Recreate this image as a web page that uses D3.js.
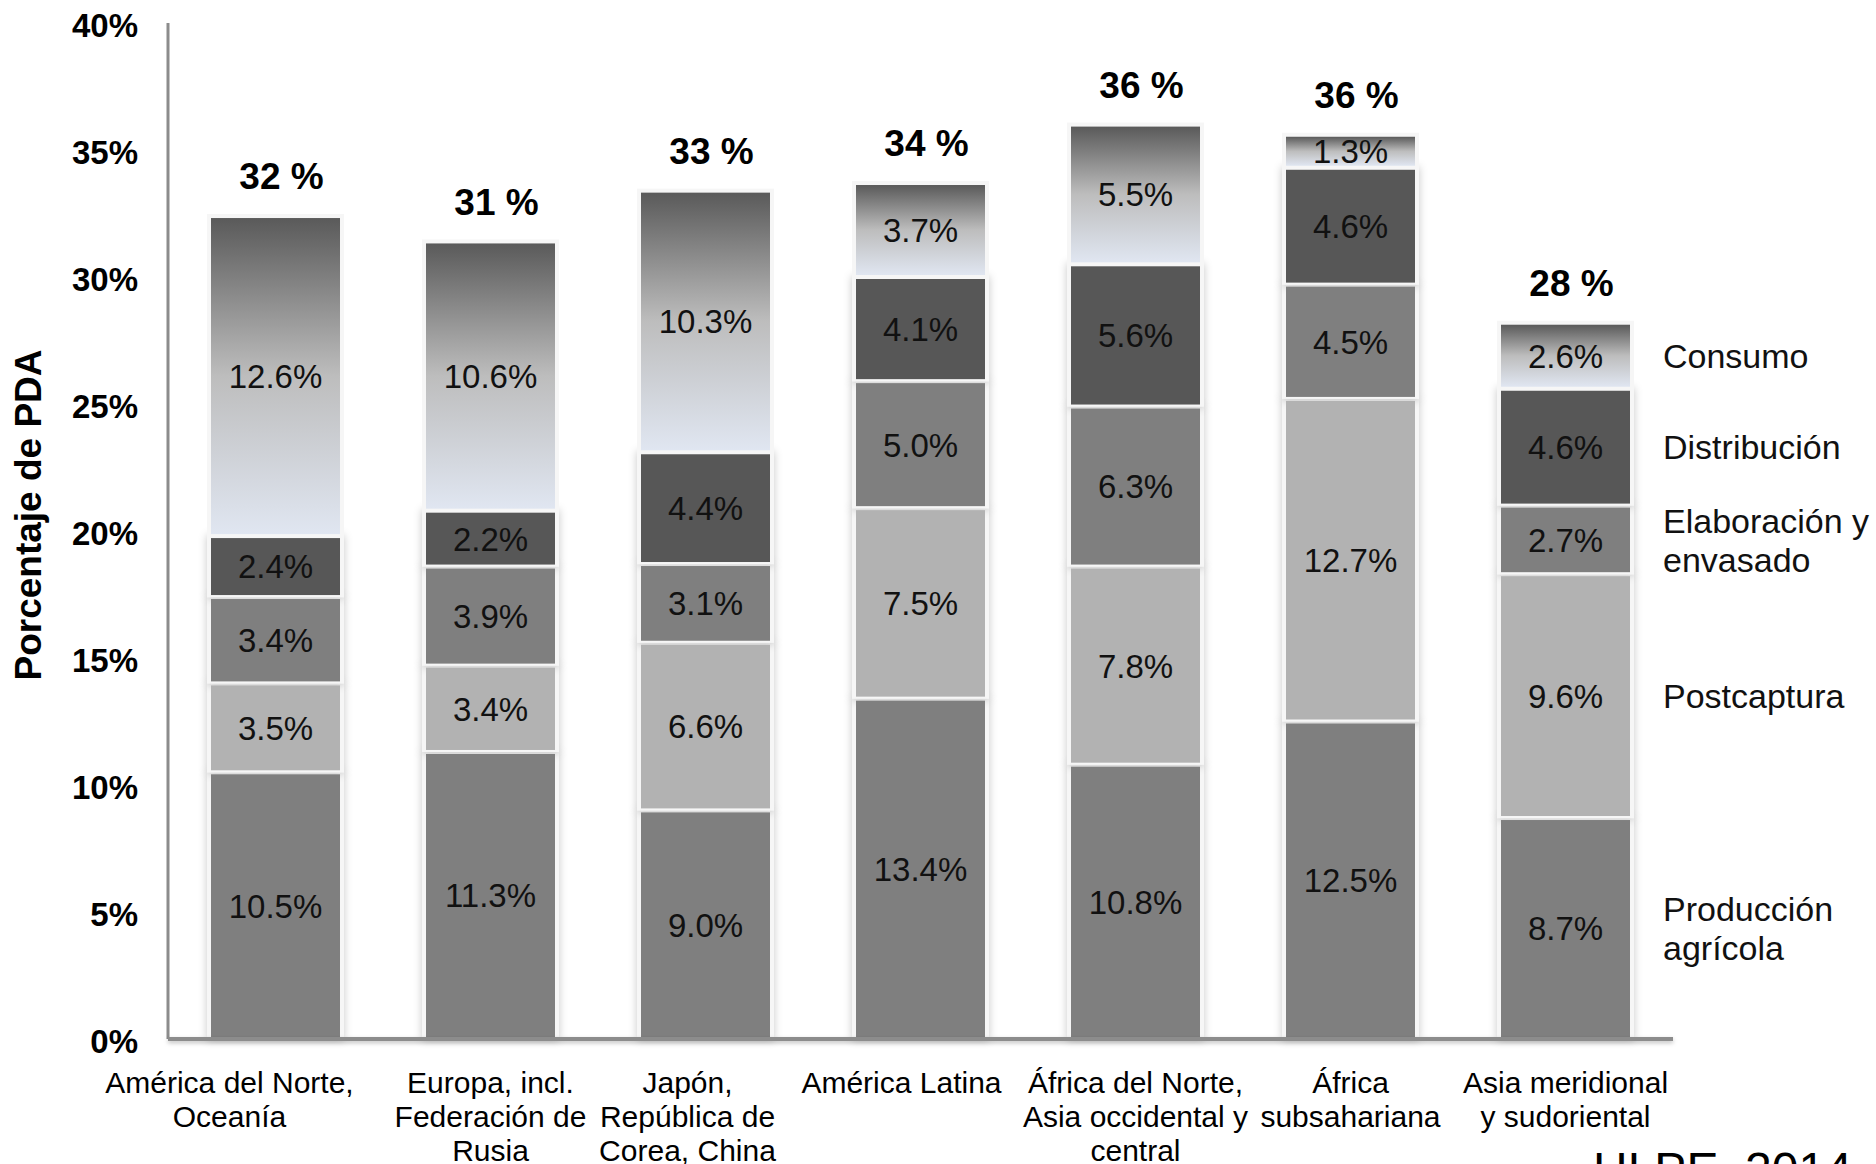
<!DOCTYPE html>
<html><head><meta charset="utf-8">
<script src="https://cdn.jsdelivr.net/npm/d3@7"></script>
<style>
html,body{margin:0;padding:0;background:#fff;}
svg{display:block;font-family:"Liberation Sans",Arial,sans-serif;}
</style></head>
<body>
<svg id="chart" width="1876" height="1164"></svg>
<script>
// ---- data ----
const categories = [
  ["América del Norte,", "Oceanía"],
  ["Europa, incl.", "Federación de", "Rusia"],
  ["Japón,", "República de", "Corea, China"],
  ["América Latina"],
  ["África del Norte,", "Asia occidental y", "central"],
  ["África", "subsahariana"],
  ["Asia meridional", "y sudoriental"]
];
const seriesNames = ["Producción agrícola", "Postcaptura", "Elaboración y envasado", "Distribución", "Consumo"];
const legendLines = [["Producción", "agrícola"], ["Postcaptura"], ["Elaboración y", "envasado"], ["Distribución"], ["Consumo"]];
const produccion   = [10.5, 11.3, 9.0, 13.4, 10.8, 12.5, 8.7];
const postcaptura  = [3.5, 3.4, 6.6, 7.5, 7.8, 12.7, 9.6];
const elaboracion  = [3.4, 3.9, 3.1, 5.0, 6.3, 4.5, 2.7];
const distribucion = [2.4, 2.2, 4.4, 4.1, 5.6, 4.6, 4.6];
const consumo      = [12.6, 10.6, 10.3, 3.7, 5.5, 1.3, 2.6];
const totalLabels  = ["32 %", "31 %", "33 %", "34 %", "36 %", "36 %", "28 %"];
const yTicks = [0, 5, 10, 15, 20, 25, 30, 35, 40];
const source = "HLPE, 2014";

// ---- drawing ----
const svg = d3.select("#chart");
const series = [produccion, postcaptura, elaboracion, distribucion, consumo];
const colors = ["#7f7f7f", "#b2b2b2", "#7f7f7f", "#575757", "url(#consGrad)"];

const x = d3.scaleBand().domain(d3.range(categories.length)).range([168, 1673]).paddingInner(0.4).paddingOuter(0.2);
const y = d3.scaleLinear().domain([0, 40]).range([1039, 23]);

const defs = svg.append("defs");
const g = defs.append("linearGradient").attr("id", "consGrad").attr("x1", 0).attr("y1", 0).attr("x2", 0).attr("y2", 1);
g.append("stop").attr("offset", "0").attr("stop-color", "#5a5a5a");
g.append("stop").attr("offset", "0.5").attr("stop-color", "#bdbdbd");
g.append("stop").attr("offset", "1").attr("stop-color", "#e0e6f1");
const f = defs.append("filter").attr("id", "shadow").attr("x", "-20%").attr("y", "-20%").attr("width", "140%").attr("height", "140%");
f.append("feDropShadow").attr("dx", 0).attr("dy", 1).attr("stdDeviation", 4).attr("flood-color", "#000").attr("flood-opacity", 0.22);
const f2 = defs.append("filter").attr("id", "lineShadow").attr("filterUnits", "userSpaceOnUse")
  .attr("x", 150).attr("y", 1020).attr("width", 1550).attr("height", 50);
f2.append("feDropShadow").attr("dx", 0).attr("dy", 2).attr("stdDeviation", 2).attr("flood-color", "#000").attr("flood-opacity", 0.25);

// stacked data
const stacked = categories.map((c, i) => {
  let acc = 0;
  return series.map((s, k) => { const d = {i, k, y0: acc, y1: acc + s[i], v: s[i]}; acc += s[i]; return d; });
});
const totals = stacked.map(st => st[st.length - 1].y1);

// y axis
const yAxis = d3.axisLeft(y).tickValues(yTicks).tickSize(0).tickPadding(30).tickFormat(d => d + "%");
const ya = svg.append("g").attr("transform", "translate(168,0)").call(yAxis);
ya.select(".domain").remove();
ya.selectAll("text").attr("font-size", 33).attr("font-weight", "bold").attr("fill", "#000")
  .attr("font-family", "'Liberation Sans',Arial,sans-serif").attr("dy", "0.4em");
svg.append("line").attr("x1", 168).attr("x2", 168).attr("y1", y(40)).attr("y2", y(0))
  .attr("stroke", "#8c8c8c").attr("stroke-width", 3);

// bars
const barG = svg.append("g");
stacked.forEach(st => {
  st.forEach(d => {
    const bx = x(d.i), bw = x.bandwidth();
    const top = y(d.y1), bot = y(d.y0);
    barG.append("rect").attr("x", bx - 4).attr("y", top - 2).attr("width", bw + 8).attr("height", Math.max(0, bot - top + 2))
      .attr("fill", "#f6f6f6").attr("filter", d.k < 4 ? "url(#shadow)" : null);
  });
  st.forEach(d => {
    const bx = x(d.i), bw = x.bandwidth();
    const top = y(d.y1), bot = y(d.y0);
    barG.append("rect").attr("x", bx).attr("y", top + 2).attr("width", bw)
      .attr("height", Math.max(0, bot - top - (d.k === 0 ? 2 : 4)))
      .attr("fill", colors[d.k]);
    barG.append("text").attr("x", bx + bw / 2).attr("y", (top + bot) / 2).attr("dy", "0.36em")
      .attr("text-anchor", "middle").attr("font-size", 33).attr("fill", "#111")
      .text(d.v.toFixed(1) + "%");
  });
});

// x axis line
svg.append("line").attr("x1", 168).attr("x2", 1673).attr("y1", y(0)).attr("y2", y(0))
  .attr("stroke", "#8c8c8c").attr("stroke-width", 4).attr("filter", "url(#lineShadow)");

// totals
svg.append("g").selectAll("text").data(totals).join("text")
  .attr("x", (d, i) => x(i) + x.bandwidth() / 2 + 6)
  .attr("y", d => y(d) - 40).attr("dy", "0.36em")
  .attr("text-anchor", "middle").attr("font-size", 37).attr("font-weight", "bold").attr("fill", "#000")
  .text((d, i) => totalLabels[i]);

// x category labels
const nudge = {0: -46, 2: -18, 3: -19};
const xl = svg.append("g");
categories.forEach((lines, i) => {
  const t = xl.append("text").attr("text-anchor", "middle").attr("font-size", 30).attr("fill", "#000");
  lines.forEach((ln, j) => {
    t.append("tspan").attr("x", x(i) + x.bandwidth() / 2 + (nudge[i] || 0)).attr("y", 1093 + j * 34).text(ln);
  });
});

// legend (labels aligned to last bar segments)
const last = stacked[stacked.length - 1];
const lg = svg.append("g");
legendLines.forEach((lines, k) => {
  const d = last[k];
  const cy = y((d.y0 + d.y1) / 2);
  const n = lines.length;
  const t = lg.append("text").attr("font-size", 34).attr("fill", "#111");
  lines.forEach((ln, j) => {
    t.append("tspan").attr("x", 1663).attr("y", cy + (j - (n - 1) / 2) * 39).attr("dy", "0.36em").text(ln);
  });
});

// y title
svg.append("text").attr("transform", "translate(41,515) rotate(-90)")
  .attr("text-anchor", "middle").attr("font-size", 37).attr("font-weight", "bold").attr("fill", "#000")
  .text("Porcentaje de PDA");

// source
svg.append("text").attr("x", 1593).attr("y", 1186).attr("font-size", 48).attr("fill", "#000").text(source);
</script>
</body></html>
